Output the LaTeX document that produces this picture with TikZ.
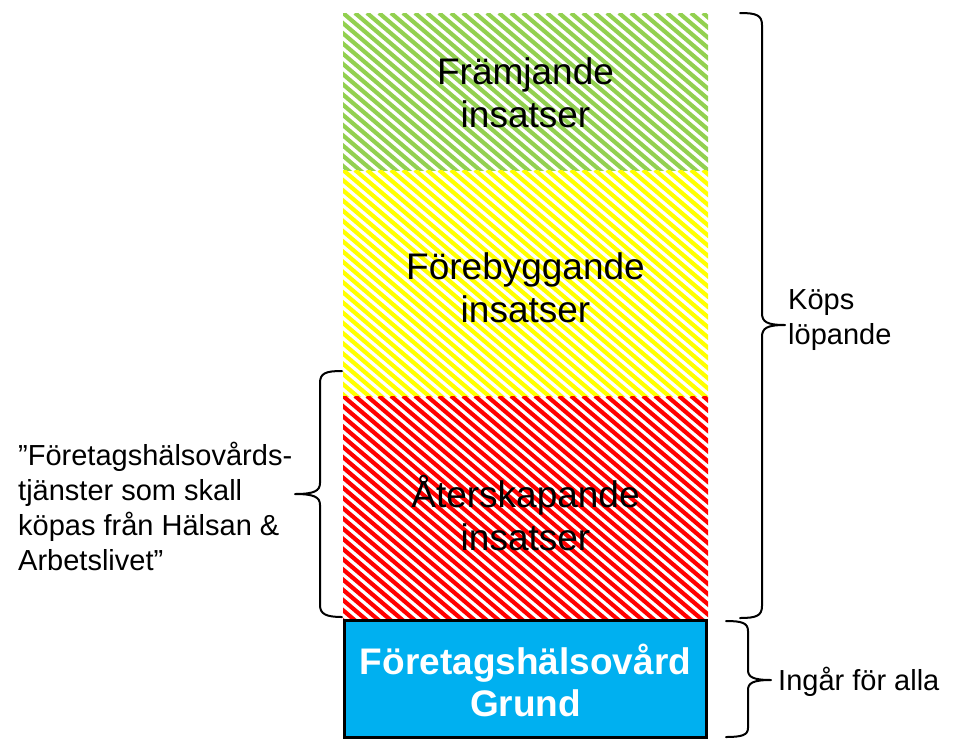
\documentclass[tikz,border=0pt]{standalone}
\usepackage{fontspec}
\setmainfont{Liberation Sans}
\definecolor{hgreen}{HTML}{92D050}
\definecolor{hyellow}{HTML}{FFFF00}
\definecolor{hred}{HTML}{FF0000}
\definecolor{cblue}{HTML}{00B0F0}
\begin{document}
\begin{tikzpicture}[x=1pt,y=-1pt]
\tikzset{
  bigtxt/.style={font=\fontsize{37}{43}\selectfont, align=center, inner sep=0pt},
  boldtxt/.style={font=\bfseries\fontsize{37}{42}\selectfont, align=center, text=white, inner sep=0pt},
  sidetxt/.style={font=\fontsize{29}{35}\selectfont, align=left, inner sep=0pt, anchor=west},
  brc/.style={draw=black, line width=2pt, line join=round, line cap=round},
  hatchline/.style={line width=4.2pt}
}
\useasboundingbox (0,0) rectangle (954,740);
% hatched bands
\foreach \n/\ya/\yb/\c in {fr/13/170/hgreen, fo/170/396/hyellow, at/396/618/hred}{
  \begin{scope}
    \clip (343,\ya) rectangle (708,\yb);
    \foreach \i in {-300,-288,...,380}
      \draw[\c, hatchline] (343+\i,\ya) -- ++(300,255);
  \end{scope}
  \coordinate (\n-nw) at (343,\ya);
  \coordinate (\n-se) at (708,\yb);
}
\node[bigtxt] (frt) at (525.5,93) {Främjande\\insatser};
\node[bigtxt] (fot) at (525.5,288) {Förebyggande\\insatser};
\node[bigtxt] (att) at (525.5,513) {Återskapande\\insatser};
% blue base box
\draw[fill=cblue, line width=3pt] (344.5,620.5) rectangle (706.5,737.5);
\node[boldtxt] (grund) at (525.5,680) {Företagshälsovård\\Grund};
% right big brace
\draw[brc] (740,13) .. controls (756,13) and (762,15) .. (762,25) -- (762,313)
  .. controls (762,322) and (767,325) .. (785,325)
  .. controls (767,325) and (762,328) .. (762,337) -- (762,606)
  .. controls (762,616) and (756,618) .. (740,618);
% right small brace
\draw[brc] (726,621) .. controls (742,621) and (748,623) .. (748,631) -- (748,670)
  .. controls (748,677) and (753,680) .. (771,680)
  .. controls (753,680) and (748,683) .. (748,690) -- (748,728)
  .. controls (748,735) and (742,737) .. (726,737);
% left brace
\draw[brc] (342,371) .. controls (326,371) and (320,373) .. (320,383) -- (320,483)
  .. controls (320,491) and (314,494) .. (295,494)
  .. controls (314,494) and (320,497) .. (320,505) -- (320,605)
  .. controls (320,614) and (326,617) .. (342,617);
% side labels
\node[sidetxt] (kops) at (788,320) {Köps\\löpande};
\node[sidetxt] (ingar) at (778,682) {Ingår för alla};
\node[sidetxt] (left) at (18,506) {”Företagshälsovårds-\\tjänster som skall\\köpas från Hälsan \&\\Arbetslivet”};
\end{tikzpicture}
\end{document}
